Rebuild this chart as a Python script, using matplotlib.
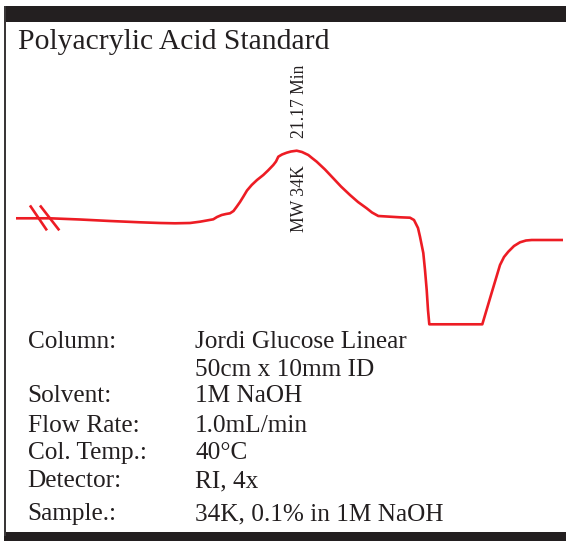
import matplotlib
matplotlib.use("Agg")
import matplotlib.pyplot as plt
from matplotlib.patches import Rectangle

# ---- data (figure pixel units) ----
trace_x = [16, 50, 80, 110, 140, 160, 175, 190, 200, 206.7, 213.3, 217, 221.7, 226, 230,
           233.5, 236.7, 240, 243.3, 247, 251.7, 257, 263.3, 268, 273.3, 276, 278.3, 282,
           286.7, 291, 296.7, 302, 308.3, 312, 316.7, 325, 333.3, 341, 350, 358, 366.7,
           372, 378.3, 390, 400, 410, 414, 418, 420, 423.3, 425, 426.7, 428, 429.3,
           482.3, 491, 500, 504, 508.3, 514, 520, 526, 531.7, 563]
trace_y = [218.3, 218.3, 219.5, 221, 222.3, 223, 223.3, 223, 221.7, 220.5, 219.3, 217, 215,
           214, 213.3, 211, 206.7, 202, 196.7, 190.5, 185, 180, 175, 170.5, 165, 161.5,
           156.7, 154.5, 152.7, 151.5, 150.7, 152, 155, 158, 161.7, 169.5, 178.3, 186.5,
           195, 202, 208.3, 212.5, 216, 216.7, 217.3, 217.7, 220, 228, 236.7, 253, 270,
           290, 310, 324.3, 324.3, 295, 265, 257, 251.7, 246, 242.3, 240.5, 240, 240]

break_marks = [((30.7, 206.5), (46.2, 229.3)), ((40.8, 206.5), (58.5, 229.3))]

title = "Polyacrylic Acid Standard"
peak_labels = ["MW 34K", "21.17 Min"]

info_labels = ["Column:", "", "Solvent:", "Flow Rate:", "Col. Temp.:", "Detector:", "Sample.:"]
info_values = ["Jordi Glucose Linear", "50cm x 10mm ID", "1M NaOH", "1.0mL/min",
               "40°C", "RI, 4x", "34K, 0.1% in 1M NaOH"]
info_baselines = [348.3, 375.5, 402, 432.5, 459.3, 487.3, 520]

# ---- style ----
RED = "#ed1c24"
DARK = "#231f20"
plt.rcParams['font.family'] = ['Liberation Serif', 'DejaVu Serif']

fig = plt.figure(figsize=(5.66, 5.41), dpi=100)
ax = fig.add_axes([0, 0, 1, 1])
ax.set_xlim(0, 566)
ax.set_ylim(541, 0)
ax.axis('off')

# frame
ax.add_patch(Rectangle((4, 6), 562, 16, facecolor=DARK, edgecolor='none'))
ax.add_patch(Rectangle((4, 532), 562, 9, facecolor=DARK, edgecolor='none'))
ax.add_patch(Rectangle((4, 6), 2.2, 530, facecolor='#3a3738', edgecolor='none'))

# chromatogram
ax.plot(trace_x, trace_y, color=RED, lw=1.9, solid_joinstyle='round', solid_capstyle='butt')
for (p0, p1) in break_marks:
    ax.plot([p0[0], p1[0]], [p0[1], p1[1]], color=RED, lw=1.9)

# title
ax.text(18.3, 49.3, title, fontsize=21.3, color=DARK, ha='left', va='baseline')

# peak labels
ax.text(299, 231.7, peak_labels[0], fontsize=12.7, color=DARK, rotation=90,
        ha='center', va='bottom')
ax.text(299, 138, peak_labels[1], fontsize=12.7, color=DARK, rotation=90,
        ha='center', va='bottom')

# info block
for lab, val, yb in zip(info_labels, info_values, info_baselines):
    if lab:
        ax.text(27.7, yb, lab, fontsize=18.2, color=DARK, ha='left', va='baseline')
    ax.text(195, yb, val, fontsize=18.2, color=DARK, ha='left', va='baseline')

fig.savefig("out.png", dpi=100, facecolor='white')
